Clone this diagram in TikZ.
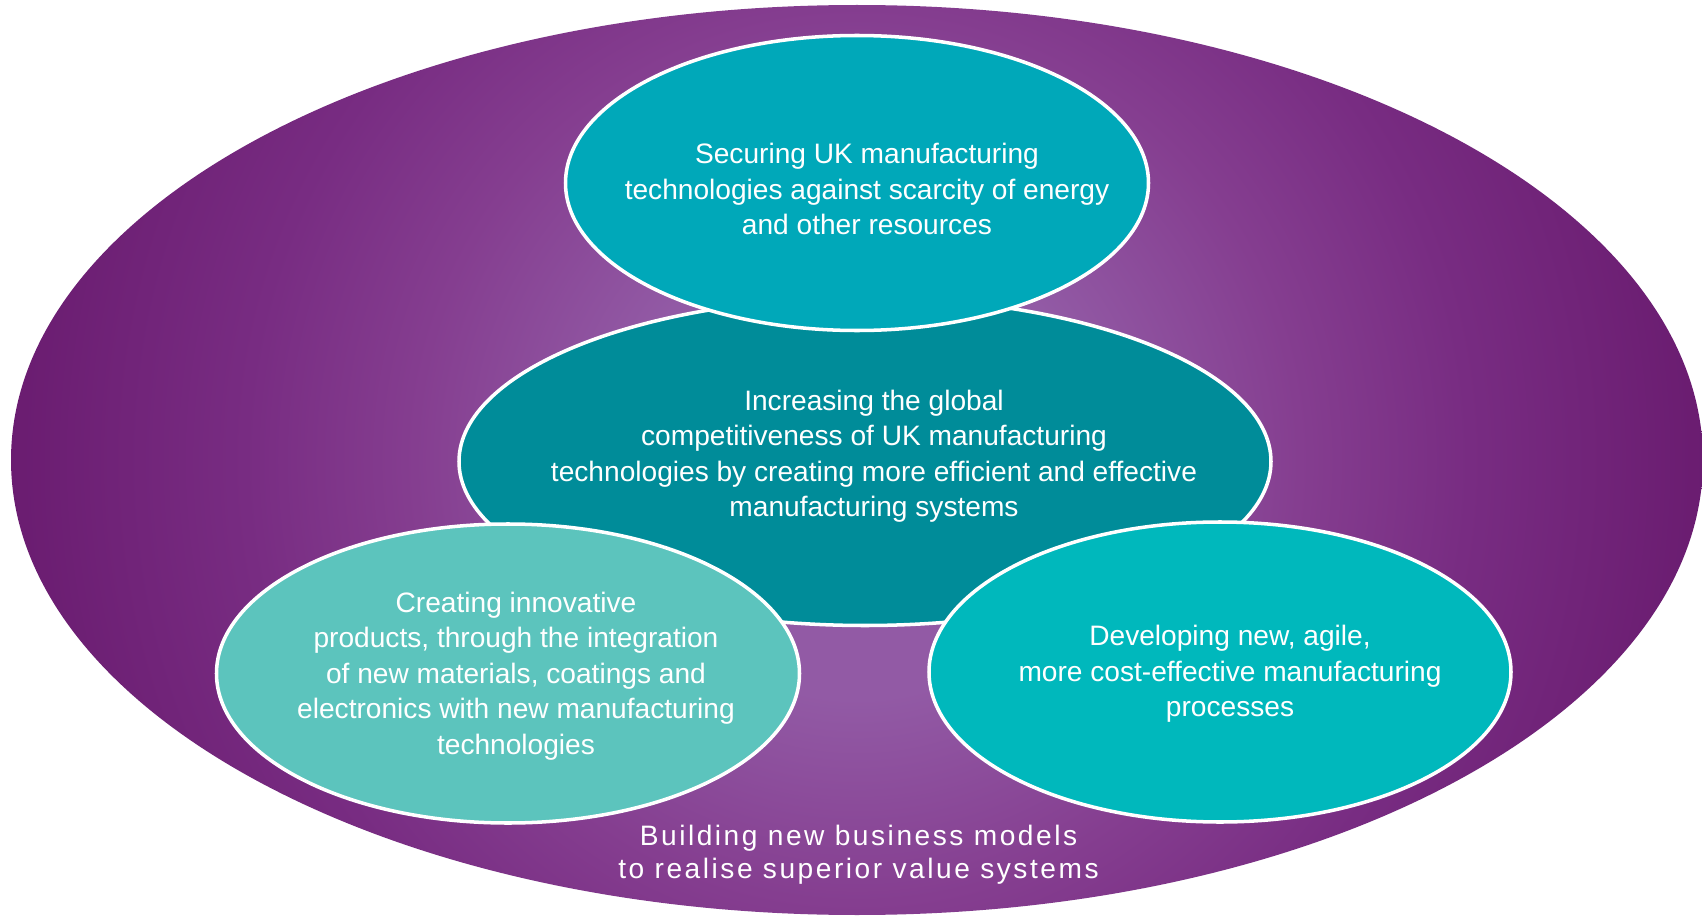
\documentclass[tikz,border=0pt]{standalone}
\usepackage{fontspec}
\setmainfont{Liberation Sans}
\newfontfamily\spacedfont[LetterSpace=9]{Liberation Sans}
\usetikzlibrary{shapes.geometric}
\definecolor{glowin}{RGB}{146,90,165}
\definecolor{glowmid}{RGB}{133,62,144}
\definecolor{glowdeep}{RGB}{120,44,130}
\definecolor{glowout}{RGB}{106,28,112}
\definecolor{topteal}{RGB}{0,168,185}
\definecolor{midteal}{RGB}{0,140,153}
\definecolor{leftteal}{RGB}{92,196,189}
\definecolor{rightteal}{RGB}{0,184,188}
\pgfdeclareradialshading{purpleglow}{\pgfpoint{0bp}{0bp}}{color(0bp)=(glowin); color(7bp)=(glowin); color(13bp)=(glowmid); color(18bp)=(glowdeep); color(25bp)=(glowout); color(50bp)=(glowout)}
\begin{document}
\begin{tikzpicture}[
  every node/.style={inner sep=0pt},
  goal/.style={ellipse, draw=white, line width=1pt},
  goaltext/.style={text=white, align=center, font=\fontsize{8}{10.1}\selectfont}
]
\useasboundingbox (0,0) rectangle (17.02,9.17);
% outer business ellipse
\begin{scope}
\clip (8.57,4.57) ellipse (8.46 and 4.55);
\shade[shading=purpleglow] (8.57,4.57) circle (8.5);
\end{scope}
% the four goals
\node[goal, fill=midteal, minimum width=8.12cm, minimum height=3.28cm] (increasing) at (8.65,4.555) {};
\node[goal, fill=topteal, minimum width=5.83cm, minimum height=2.95cm] (securing) at (8.57,7.34) {};
\node[goal, fill=leftteal, minimum width=5.83cm, minimum height=2.99cm] (creating) at (5.08,2.435) {};
\node[goal, fill=rightteal, minimum width=5.82cm, minimum height=3.0cm] (developing) at (12.20,2.45) {};
\node[goaltext] (securingtext) at (8.67,7.28) {Securing UK manufacturing\\technologies against scarcity of energy\\and other resources};
\node[goaltext] (increasingtext) at (8.74,4.61) {Increasing the global\\competitiveness of UK manufacturing\\technologies by creating more efficient and effective\\manufacturing systems};
\node[goaltext] (creatingtext) at (5.16,2.41) {Creating innovative\\products, through the integration\\of new materials, coatings and\\electronics with new manufacturing\\technologies};
\node[goaltext] (developingtext) at (12.30,2.43) {Developing new, agile,\\more cost-effective manufacturing\\processes};
\node[goaltext, font=\spacedfont\fontsize{8}{9.4}\selectfont] (business) at (8.585,0.625) {Building new business models\\to realise superior value systems};
\end{tikzpicture}
\end{document}
